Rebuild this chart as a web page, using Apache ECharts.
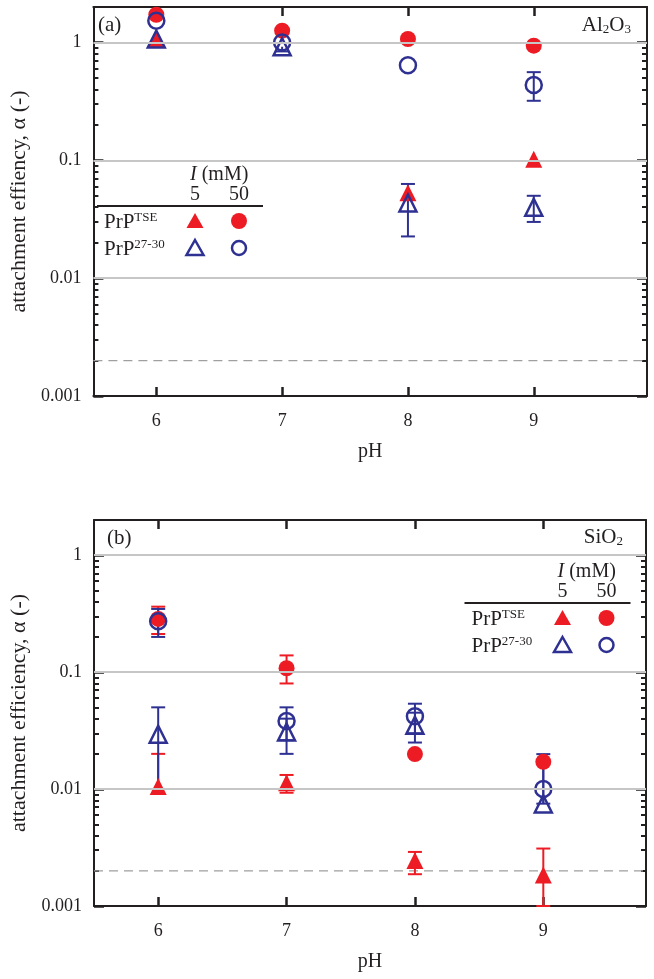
<!DOCTYPE html>
<html>
<head>
<meta charset="utf-8">
<script src="https://cdn.jsdelivr.net/npm/echarts@6/dist/echarts.min.js"></script>
<style>
html,body{margin:0;padding:0;background:#fff;}
#chart{width:654px;height:979px;}
</style>
</head>
<body>
<div id="chart"></div>
<script>
// ---------- data ----------
const pH = [6, 7, 8, 9];
const xTickLabels = ['6', '7', '8', '9'];
const yTickValues = [0.001, 0.01, 0.1, 1];
const yTickLabels = ['0.001', '0.01', '0.1', '1'];
const yMinorTicks = [0.002,0.003,0.004,0.005,0.006,0.007,0.008,0.009,
                     0.02,0.03,0.04,0.05,0.06,0.07,0.08,0.09,
                     0.2,0.3,0.4,0.5,0.6,0.7,0.8,0.9];
const gridLevels = [1, 0.1, 0.01];
const detectionLimit = 0.002;

// Panel (a): Al2O3
const aTse5      = [1.07, null, 0.053, 0.102];
const aTse50     = [1.72, 1.26, 1.07, 0.94];
const a2730_5    = [1.07, 0.92, 0.0434, 0.040];
const a2730_5Lo  = [null, 0.84, 0.0226, 0.030];
const a2730_5Hi  = [null, null, 0.063, 0.050];
const a2730_50   = [1.53, 1.0, 0.64, 0.436];
const a2730_50Lo = [null, null, null, 0.32];
const a2730_50Hi = [null, null, null, 0.56];

// Panel (b): SiO2
const bTse5      = [0.0105, 0.0113, 0.00245, 0.00184];
const bTse5Lo    = [null, 0.0093, 0.00187, 0.001];
const bTse5Hi    = [0.02, 0.0132, 0.0029, 0.0031];
const bTse50     = [0.285, 0.108, 0.0199, 0.0171];
const bTse50Lo   = [0.212, 0.08, null, null];
const bTse50Hi   = [0.363, 0.139, null, null];
const b2730_5    = [0.0294, 0.0308, 0.0351, 0.00745];
const b2730_5Lo  = [0.01, 0.02, 0.025, null];
const b2730_5Hi  = [0.05, 0.04, 0.045, 0.017];
const b2730_50   = [0.272, 0.0382, 0.0419, 0.01];
const b2730_50Lo = [0.2, 0.0262, 0.03, 0.0075];
const b2730_50Hi = [0.347, 0.05, 0.0537, 0.0199];

// ---------- styling ----------
const RED = '#ed1c24';
const BLUE = '#2e3192';
const INK = '#231f20';
const FONT = "'Liberation Serif', 'Times New Roman', serif";
const XMIN = 5.5;
const XMAX = [9.9, 9.8];

const chart = echarts.init(document.getElementById('chart'));

function pts(vals) {
  const out = [];
  vals.forEach((v, i) => { if (v != null) out.push([pH[i], v]); });
  return out;
}
function errs(vals, lo, hi) {
  const out = [];
  vals.forEach((v, i) => {
    if (v == null) return;
    const l = lo ? lo[i] : null, h = hi ? hi[i] : null;
    if (l == null && h == null) return;
    out.push([pH[i], v, l == null ? v : l, h == null ? v : h, l == null ? 0 : 1, h == null ? 0 : 1]);
  });
  return out;
}
function errSeries(gi, data, color) {
  return {
    type: 'custom', xAxisIndex: gi * 2, yAxisIndex: gi * 4, z: 3, silent: true,
    data: data,
    encode: { x: 0, y: [1, 2, 3] },
    renderItem: function (params, api) {
      const x = api.value(0);
      const pLo = api.coord([x, api.value(2)]);
      const pHi = api.coord([x, api.value(3)]);
      const cw = 7;
      const st = { stroke: color, lineWidth: 2 };
      const ch = [{ type: 'line', shape: { x1: pLo[0], y1: pLo[1], x2: pHi[0], y2: pHi[1] }, style: st }];
      if (api.value(4)) ch.push({ type: 'line', shape: { x1: pLo[0] - cw, y1: pLo[1], x2: pLo[0] + cw, y2: pLo[1] }, style: st });
      if (api.value(5)) ch.push({ type: 'line', shape: { x1: pHi[0] - cw, y1: pHi[1], x2: pHi[0] + cw, y2: pHi[1] }, style: st });
      return { type: 'group', children: ch };
    }
  };
}
function markerSeries(gi, data, symbol, filled, color) {
  return {
    type: 'scatter', xAxisIndex: gi * 2, yAxisIndex: gi * 4, z: 4, silent: true,
    data: data, symbol: symbol, symbolSize: symbol === 'triangle' ? 17 : 16,
    itemStyle: filled ? { color: color, opacity: 1 } : { color: 'rgba(0,0,0,0)', borderColor: color, borderWidth: 2.5, opacity: 1 }
  };
}
function gridSeries(gi) {
  return [{
    type: 'scatter', xAxisIndex: gi * 2, yAxisIndex: gi * 4, z: 1, silent: true, data: [],
    markLine: {
      silent: true, symbol: ['none', 'none'], label: { show: false }, animation: false,
      lineStyle: { color: '#c6c6c6', width: 2, type: 'solid' },
      data: gridLevels.map(v => ({ yAxis: v }))
    }
  }, {
    type: 'line', xAxisIndex: gi * 2, yAxisIndex: gi * 4, z: 1, silent: true,
    showSymbol: false, symbol: 'none',
    data: [[XMIN, detectionLimit], [XMAX[gi], detectionLimit]],
    lineStyle: { color: '#9f9f9f', width: 1.3, type: [9, 6] }
  }];
}

function xAxes(gi) {
  const base = {
    type: 'value', gridIndex: gi, min: XMIN, max: XMAX[gi],
    splitLine: { show: false },
    axisLine: { show: true, lineStyle: { color: INK, width: 2 } },
    axisTick: { show: true, inside: true, length: 9, customValues: pH, lineStyle: { color: INK, width: 2.5 } }
  };
  return [
    Object.assign({}, base, {
      position: 'bottom',
      name: 'pH', nameLocation: 'middle', nameGap: 46,
      nameTextStyle: { fontFamily: FONT, fontSize: 20, color: INK },
      axisLabel: { show: true, customValues: pH, margin: 16, fontFamily: FONT, fontSize: 18, color: INK,
        formatter: v => xTickLabels[pH.indexOf(Math.round(v))] }
    }),
    Object.assign({}, base, { position: 'top', axisLabel: { show: false } })
  ];
}
function yAxes(gi, title) {
  const base = {
    type: 'log', logBase: 10, gridIndex: gi, min: 0.001, max: 2,
    splitLine: { show: false }, minorTick: { show: false }
  };
  const major = {
    axisLine: { show: true, lineStyle: { color: INK, width: 2 } },
    axisTick: { show: true, inside: true, length: 10, customValues: yTickValues, lineStyle: { color: INK, width: 2.5 } }
  };
  const minor = {
    axisLine: { show: false },
    axisTick: { show: true, inside: true, length: 5, customValues: yMinorTicks, lineStyle: { color: INK, width: 2 } },
    axisLabel: { show: false }
  };
  return [
    Object.assign({}, base, major, {
      position: 'left',
      name: title, nameLocation: 'middle', nameGap: 62,
      nameTextStyle: { fontFamily: FONT, fontSize: 22, color: INK },
      axisLabel: { show: true, customValues: yTickValues, margin: 12, fontFamily: FONT, fontSize: 18, color: INK,
        formatter: v => { const e = Math.round(Math.log10(v)); return yTickLabels[e + 3] || ''; } }
    }),
    Object.assign({}, base, major, { position: 'right', axisLabel: { show: false } }),
    Object.assign({}, base, minor, { position: 'left' }),
    Object.assign({}, base, minor, { position: 'right' })
  ];
}

// legend (drawn as graphic elements)
function legend(dx, dy) {
  const t = (x, y, text, align, rich) => ({
    type: 'text', x: x + dx, y: y + dy,
    style: { text: text, fontFamily: FONT, fontSize: 20, fill: INK, align: align || 'left', verticalAlign: 'middle', rich: rich || {} }
  });
  const supRich = { p: { fontFamily: FONT, fontSize: 21, fill: INK }, s: { fontFamily: FONT, fontSize: 13, fill: INK, verticalAlign: 'top', padding: [0, 0, 7, 0] } };
  const tri = (cx, cy, filled, color) => ({
    type: 'polygon', shape: { points: [[cx + dx, cy + dy - 8], [cx + dx + 8.5, cy + dy + 7], [cx + dx - 8.5, cy + dy + 7]] },
    style: filled ? { fill: color } : { fill: 'none', stroke: color, lineWidth: 2.5 }
  });
  const circ = (cx, cy, filled, color) => ({
    type: 'circle', shape: { cx: cx + dx, cy: cy + dy, r: filled ? 8 : 7 },
    style: filled ? { fill: color } : { fill: 'none', stroke: color, lineWidth: 2.5 }
  });
  return [
    { type: 'text', x: 190 + dx, y: 175 + dy, style: { text: '{i|I} (mM)', fontFamily: FONT, fontSize: 20, fill: INK, verticalAlign: 'middle',
      rich: { i: { fontFamily: FONT, fontSize: 20, fontStyle: 'italic', fill: INK } } } },
    t(195, 195, '5', 'center'),
    t(239, 195, '50', 'center'),
    { type: 'line', shape: { x1: 97 + dx, y1: 206 + dy, x2: 263 + dx, y2: 206 + dy }, style: { stroke: INK, lineWidth: 2 } },
    t(104, 222, '{p|PrP}{s|TSE}', 'left', supRich),
    t(104, 249, '{p|PrP}{s|27-30}', 'left', supRich),
    tri(195, 221, true, RED), circ(239, 221, true, RED),
    tri(195, 248, false, BLUE), circ(239, 248, false, BLUE)
  ];
}
const subRich = { m: { fontFamily: FONT, fontSize: 21, fill: INK }, d: { fontFamily: FONT, fontSize: 13, fill: INK, verticalAlign: 'bottom', padding: [9, 0, 0, 0] } };

const option = {
  backgroundColor: '#fff',
  animation: false,
  grid: [
    { left: 91, top: 7, width: 556, height: 389 },
    { left: 94, top: 520, width: 552, height: 386 }
  ],
  xAxis: xAxes(0).concat(xAxes(1)),
  yAxis: yAxes(0, 'attachment effiency, α (-)').concat(yAxes(1, 'attachment efficiency, α (-)')),
  series: [].concat(
    gridSeries(0),
    [
      errSeries(0, errs(aTse5, null, null), RED),
      markerSeries(0, pts(aTse5), 'triangle', true, RED),
      markerSeries(0, pts(aTse50), 'circle', true, RED),
      errSeries(0, errs(a2730_5, a2730_5Lo, a2730_5Hi), BLUE),
      errSeries(0, errs(a2730_50, a2730_50Lo, a2730_50Hi), BLUE),
      markerSeries(0, pts(a2730_5), 'triangle', false, BLUE),
      markerSeries(0, pts(a2730_50), 'circle', false, BLUE)
    ],
    gridSeries(1),
    [
      errSeries(1, errs(bTse5, bTse5Lo, bTse5Hi), RED),
      errSeries(1, errs(bTse50, bTse50Lo, bTse50Hi), RED),
      markerSeries(1, pts(bTse5), 'triangle', true, RED),
      markerSeries(1, pts(bTse50), 'circle', true, RED),
      errSeries(1, errs(b2730_5, b2730_5Lo, b2730_5Hi), BLUE),
      errSeries(1, errs(b2730_50, b2730_50Lo, b2730_50Hi), BLUE),
      markerSeries(1, pts(b2730_5), 'triangle', false, BLUE),
      markerSeries(1, pts(b2730_50), 'circle', false, BLUE)
    ]
  ),
  graphic: [
    { type: 'text', x: 98, y: 25, style: { text: '(a)', fontFamily: FONT, fontSize: 21, fill: INK, verticalAlign: 'middle' } },
    { type: 'text', x: 631, y: 25, style: { text: '{m|Al}{d|2}{m|O}{d|3}', align: 'right', verticalAlign: 'middle', rich: subRich } },
    { type: 'text', x: 107, y: 538, style: { text: '(b)', fontFamily: FONT, fontSize: 21, fill: INK, verticalAlign: 'middle' } },
    { type: 'text', x: 623, y: 537, style: { text: '{m|SiO}{d|2}', align: 'right', verticalAlign: 'middle', rich: subRich } }
  ].concat(legend(0, 0)).concat(legend(367.5, 397))
};
chart.setOption(option);
</script>
</body>
</html>
